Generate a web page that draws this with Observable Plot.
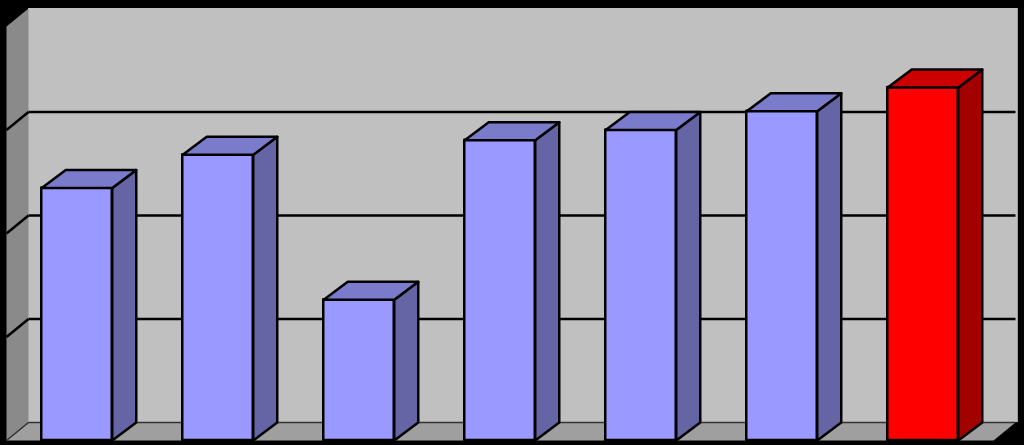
<!DOCTYPE html>
<html><head><meta charset="utf-8">
<script src="https://cdn.jsdelivr.net/npm/d3@7"></script>
<script src="https://cdn.jsdelivr.net/npm/@observablehq/plot@0.6"></script>
<style>html,body{margin:0;padding:0;background:#000;overflow:hidden}</style>
</head><body><div id="chart"></div>
<script>
// ---- data ----
const categories = ["1", "2", "3", "4", "5", "6", "7"];
const values = [24.4, 27.6, 13.6, 29.0, 30.0, 31.8, 34.1];
const highlighted = [false, false, false, false, false, false, true];
const gridTicks = [10, 20, 30];
const yMax = 40;

// ---- styling / layout ----
const W = 1024, H = 445;
const mL = 6, mR = 31, mT = 26, mB = 5;
const n = categories.length;
const pxPerX = (W - mL - mR) / n;
const pxPerY = (H - mT - mB) / yMax;
const wallDX = 22 / pxPerX, wallDY = 18 / pxPerY;
const barDX = 24 / pxPerX, barDY = 18 / pxPerY;
const half = 0.25;
const pal = {
  normal: {front: "#9999ff", top: "#7b7bcc", side: "#6565a6"},
  hl: {front: "#ff0000", top: "#cc0000", side: "#a30000"}
};

const bars = categories.map((c, i) => ({i, c, v: values[i], col: highlighted[i] ? pal.hl : pal.normal}));

const xL = -0.5, xR = n - 0.5;

// wall polygons
const walls = [];
[[xL, 0], [xL, yMax], [xL + wallDX, yMax + wallDY], [xL + wallDX, wallDY]]
  .forEach(([x, y]) => walls.push({id: "side", x, y, fill: "#8a8a8a"}));
[[xL, 0], [xR, 0], [xR + wallDX, wallDY], [xL + wallDX, wallDY]]
  .forEach(([x, y]) => walls.push({id: "floor", x, y, fill: "#9f9f9f"}));

// bar faces
const sides = [], tops = [];
bars.forEach(b => {
  const a = b.i - half, r = b.i + half;
  [[r, 0], [r, b.v], [r + barDX, b.v + barDY], [r + barDX, barDY]]
    .forEach(([x, y]) => sides.push({id: b.c, x, y, fill: b.col.side}));
  [[a, b.v], [r, b.v], [r + barDX, b.v + barDY], [a + barDX, b.v + barDY]]
    .forEach(([x, y]) => tops.push({id: b.c, x, y, fill: b.col.top}));
});

const chart = Plot.plot({
  width: W, height: H,
  marginLeft: mL, marginRight: mR, marginTop: mT, marginBottom: mB,
  style: {background: "#000", overflow: "visible"},
  x: {type: "linear", domain: [xL, xR], axis: null},
  y: {type: "linear", domain: [0, yMax], axis: null},
  color: {type: "identity"},
  marks: [
    // back wall
    Plot.rect([0], {x1: () => xL + wallDX, x2: () => xR + wallDX + 0.02, y1: () => wallDY, y2: () => yMax + wallDY, fill: "#c0c0c0"}),
    // side wall + floor
    Plot.line(walls, {x: "x", y: "y", z: "id", fill: "fill", stroke: "none", curve: "linear-closed"}),
    // floor back edge
    Plot.link([0], {x1: () => xL + wallDX, x2: () => xR + wallDX, y1: () => wallDY, y2: () => wallDY, stroke: "#333", strokeWidth: 1.5}),
    Plot.link([0], {x1: () => xL + wallDX, x2: () => xL, y1: () => wallDY, y2: () => 0, stroke: "#333", strokeWidth: 1.5}),
    // gridlines on back wall
    Plot.link(gridTicks, {x1: () => xL + wallDX, x2: () => xR + wallDX, y1: d => d + wallDY, y2: d => d + wallDY, stroke: "#000", strokeWidth: 2.5}),
    // gridlines on side wall
    Plot.link(gridTicks, {x1: () => xL + wallDX, x2: () => xL, y1: d => d + wallDY, y2: d => d, stroke: "#000", strokeWidth: 2.5}),
    // bars: front faces
    Plot.rect(bars, {x1: d => d.i - half, x2: d => d.i + half, y1: () => 0, y2: d => d.v, fill: d => d.col.front, stroke: "#000", strokeWidth: 2.5, strokeLinejoin: "round"}),
    // side faces
    Plot.line(sides, {x: "x", y: "y", z: "id", fill: "fill", stroke: "#000", strokeWidth: 2.5, strokeLinejoin: "round", curve: "linear-closed"}),
    // top faces
    Plot.line(tops, {x: "x", y: "y", z: "id", fill: "fill", stroke: "#000", strokeWidth: 2.5, strokeLinejoin: "round", curve: "linear-closed"})
  ]
});
document.getElementById("chart").appendChild(chart);
</script>
</body></html>
